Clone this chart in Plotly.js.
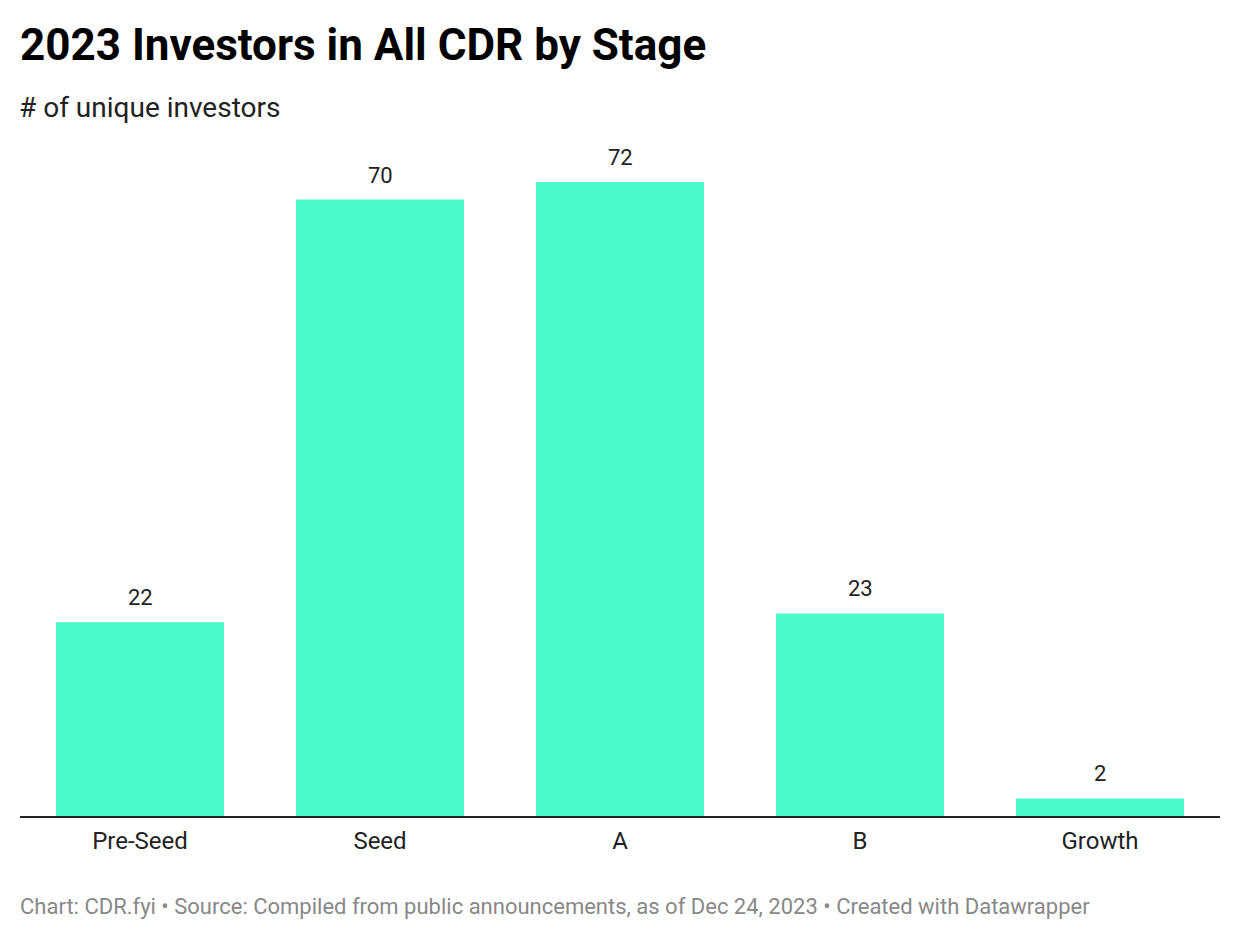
<!DOCTYPE html>
<html><head><meta charset="utf-8">
<script src="https://cdn.plot.ly/plotly-3.0.1.min.js"></script>
<style>html,body{margin:0;padding:0;background:#fff}#chart{width:1240px;height:940px}</style>
</head><body><div id="chart"></div>
<script>
const stages = ["Pre-Seed", "Seed", "A", "B", "Growth"];
const investors = [22, 70, 72, 23, 2];

const FONT = "Roboto, 'Noto Sans', sans-serif";
const trace = {
  type: "bar",
  x: stages,
  y: investors,
  marker: {color: "#4cf9c8"},
  hoverinfo: "x+y"
};
const labels = stages.map((s, i) => ({
  x: s, y: investors[i], xref: "x", yref: "y",
  text: String(investors[i]), showarrow: false,
  yanchor: "bottom", yshift: 10,
  font: {family: FONT, size: 22, color: "#222"}
}));
const layout = {
  width: 1240, height: 940,
  paper_bgcolor: "#fff", plot_bgcolor: "#fff",
  margin: {l: 20, r: 20, t: 150, b: 124},
  showlegend: false,
  bargap: 0.3,
  title: {text: "<b>2023 Investors in All CDR by Stage</b>", x: 0, xref: "paper", xanchor: "left",
          y: 1, yref: "container", yanchor: "top", pad: {t: 29},
          font: {family: FONT, size: 44, color: "#000"}},
  xaxis: {type: "category", showgrid: false, zeroline: false, showline: true,
          linecolor: "#222", linewidth: 2, ticks: "", ticklen: 0, ticklabelstandoff: 2,
          tickfont: {family: FONT, size: 24, color: "#222"}, fixedrange: true},
  yaxis: {range: [0, 75.63], showgrid: false, zeroline: false, showticklabels: false,
          showline: false, fixedrange: true},
  annotations: labels.concat([
    {text: "# of unique investors", xref: "paper", yref: "paper", x: 0, y: (940-124-108)/(940-274),
     xanchor: "left", yanchor: "middle", showarrow: false, xshift: -3,
     font: {family: FONT, size: 28, color: "#222"}},
    {text: "Chart: CDR.fyi • Source: Compiled from public announcements, as of Dec 24, 2023 • Created with Datawrapper",
     xref: "paper", yref: "paper", x: 0, y: -(906-816)/666, xanchor: "left", yanchor: "middle", showarrow: false,
     xshift: -2,
     font: {family: FONT, size: 22, color: "#888"}}
  ])
};
Plotly.newPlot("chart", [trace], layout, {displayModeBar: false});
</script></body></html>
